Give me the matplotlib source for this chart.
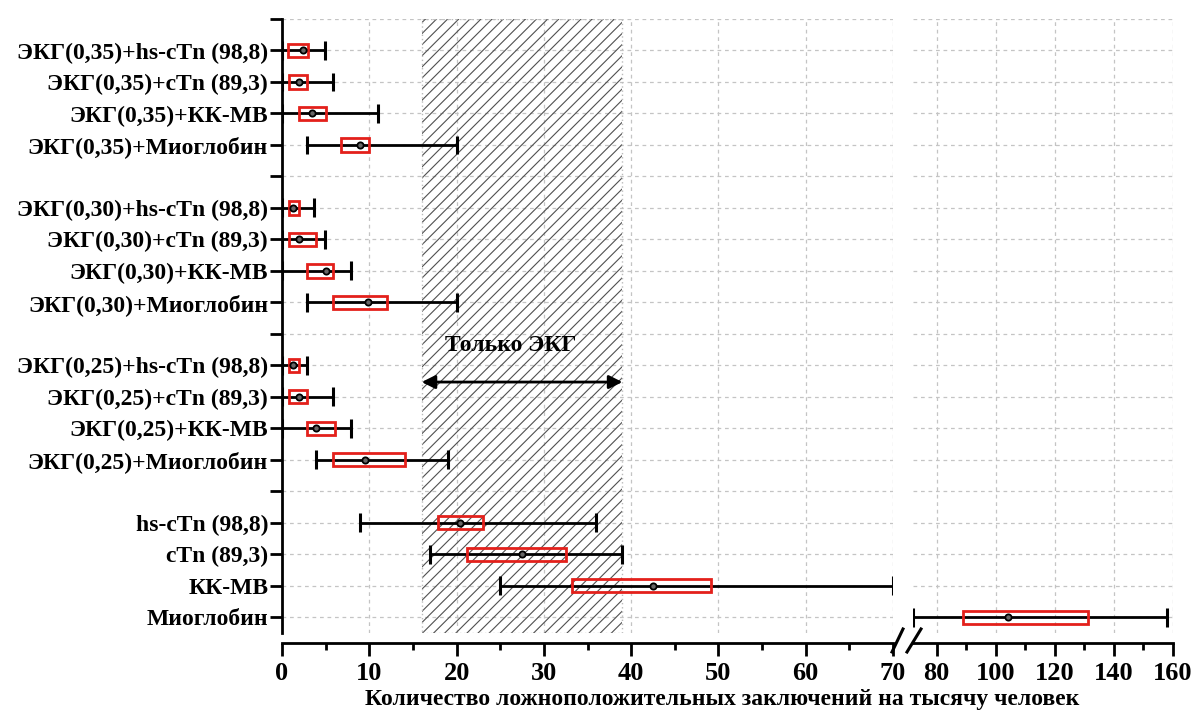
import matplotlib.pyplot as plt
from matplotlib.lines import Line2D
from matplotlib.ticker import MultipleLocator, FixedLocator

plt.rcParams['font.family'] = ['Liberation Serif', 'DejaVu Serif']
plt.rcParams['font.weight'] = 'bold'
plt.rcParams['hatch.linewidth'] = 0.8

# rows, top to bottom (four groups of four)
labels = [
    'ЭКГ(0,35)+hs-cTn (98,8)', 'ЭКГ(0,35)+cTn (89,3)', 'ЭКГ(0,35)+КК-МВ', 'ЭКГ(0,35)+Миоглобин',
    'ЭКГ(0,30)+hs-cTn (98,8)', 'ЭКГ(0,30)+cTn (89,3)', 'ЭКГ(0,30)+КК-МВ', 'ЭКГ(0,30)+Миоглобин',
    'ЭКГ(0,25)+hs-cTn (98,8)', 'ЭКГ(0,25)+cTn (89,3)', 'ЭКГ(0,25)+КК-МВ', 'ЭКГ(0,25)+Миоглобин',
    'hs-cTn (98,8)', 'cTn (89,3)', 'КК-МВ', 'Миоглобин',
]
whis_lo = [0, 0, 0, 2.9,  0, 0, 0, 2.9,  0, 0, 0, 3.9,  8.9, 17.0, 25.0, 72.0]
q1 =      [0.7, 0.8, 1.9, 6.8,  0.8, 0.8, 2.9, 5.8,  0.8, 0.8, 2.9, 5.8,  17.9, 21.2, 33.2, 88.8]
median =  [2.4, 2.0, 3.4, 8.9,  1.3, 2.0, 5.0, 9.9,  1.3, 1.9, 3.9, 9.5,  20.4, 27.5, 42.5, 104.1]
q3 =      [3.0, 2.9, 5.0, 10.0,  2.0, 3.9, 5.8, 12.0,  2.0, 2.9, 6.1, 14.1,  23.0, 32.5, 49.1, 131.2]
whis_hi = [4.9, 5.9, 11.0, 20.0,  3.7, 4.9, 7.9, 20.0,  2.9, 5.9, 7.9, 19.0,  36.0, 38.9, 70.0, 158.0]

ecg_only = (16, 39)

# positions: groups of 4 rows separated by an empty tick
ypos = [19 - g * 5 - i for g in range(4) for i in range(4)]
sep_ticks = [5, 10, 15, 20]

fig = plt.figure(figsize=(11.94, 7.13), dpi=100)
W, H = 1194, 713
ax1 = fig.add_axes([282 / W, 1 - 633 / H, 611 / W, 614 / H])
ax2 = fig.add_axes([913 / W, 1 - 633 / H, 260 / W, 614 / H], sharey=ax1)

grid_kw = dict(color='#c4c4c4', linestyle=(0, (3, 3)), linewidth=0.9)

for ax in (ax1, ax2):
    ax.set_ylim(0.5, 20)
    ax.grid(True, **grid_kw)
    ax.set_axisbelow(True)
    for side in ('top', 'right'):
        ax.spines[side].set_visible(False)
    ax.spines['bottom'].set_position(('outward', 7))
    ax.spines['bottom'].set_linewidth(2)
    ax.tick_params(axis='x', which='major', length=9, width=2, direction='out',
                   labelsize=19, pad=5)
    ax.tick_params(axis='x', which='minor', length=5, width=2, direction='out')

    # whiskers, caps, boxes, medians
    ax.hlines(ypos, whis_lo, whis_hi, color='black', lw=2, zorder=3)
    ax.vlines(whis_lo, [y - 0.3 for y in ypos], [y + 0.3 for y in ypos], color='black', lw=2.2, zorder=3)
    ax.vlines(whis_hi, [y - 0.3 for y in ypos], [y + 0.3 for y in ypos], color='black', lw=2.2, zorder=3)
    ax.barh(ypos, [b - a for a, b in zip(q1, q3)], left=q1, height=0.42,
            facecolor='none', edgecolor='#e3201b', linewidth=2, zorder=4)
    ax.plot(median, ypos, 'o', ms=4.5, mfc='#666666', mec='black', mew=1.3, ls='none', zorder=5)

ax1.set_xlim(0, 70)
ax1.xaxis.set_major_locator(MultipleLocator(10))
ax1.xaxis.set_minor_locator(MultipleLocator(5))
ax1.spines['left'].set_linewidth(2)
ax1.set_yticks(ypos + sep_ticks)
ax1.set_yticklabels(labels + [''] * len(sep_ticks), fontsize=17)
ax1.tick_params(axis='y', length=9, width=2, direction='out', pad=1)

ax2.set_xlim(72, 160)
ax2.xaxis.set_major_locator(FixedLocator([80, 100, 120, 140, 160]))
ax2.xaxis.set_minor_locator(FixedLocator([90, 110, 130, 150]))
ax2.spines['left'].set_visible(False)
ax2.tick_params(axis='y', left=False, labelleft=False)

# ECG-only band
ax1.axvspan(*ecg_only, facecolor='none', edgecolor='#505050', hatch='///', linewidth=0, zorder=1)
ax1.axvspan(*ecg_only, facecolor='none', edgecolor='#bbbbbb', linestyle=(0, (1, 2)), linewidth=1, zorder=1)
ax1.annotate('', xy=(ecg_only[1], 8.47), xytext=(ecg_only[0], 8.47),
             arrowprops=dict(arrowstyle='<|-|>', color='black', lw=2,
                             mutation_scale=20, shrinkA=0, shrinkB=0), zorder=6)
ax1.text(26.2, 9.62, 'Только ЭКГ', ha='center', va='center', fontsize=17, fontweight='bold', zorder=6)

# axis break marks
for x0, x1 in ((892, 903), (907, 921)):
    fig.add_artist(Line2D([x0 / W, x1 / W], [1 - 652 / H, 1 - 629 / H],
                          transform=fig.transFigure, color='black', lw=2.2))

fig.text(722 / W, 1 - 700 / H, 'Количество ложноположительных заключений на тысячу человек',
         ha='center', va='center', fontsize=17, fontweight='bold')

fig.savefig('out.png', dpi=100)
